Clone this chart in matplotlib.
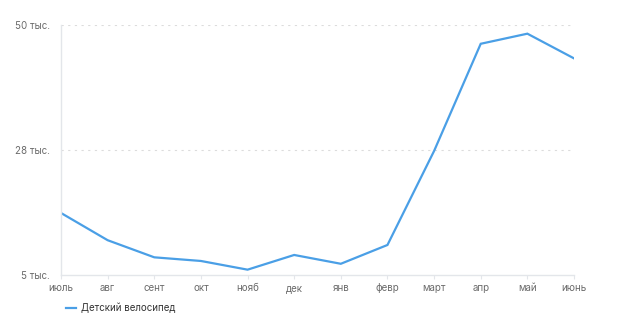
import matplotlib
matplotlib.use("Agg")
import matplotlib.pyplot as plt

months = ["июль", "авг", "сент", "окт", "нояб", "дек", "янв", "февр", "март", "апр", "май", "июнь"]
values = [16.45, 11.6, 8.55, 7.9, 6.35, 8.97, 7.4, 10.75, 27.5, 46.6, 48.4, 44.0]
ytick_vals = [5.4, 27.7, 50.0]
ytick_labels = ["5 тыс.", "28 тыс.", "50 тыс."]
series_name = "Детский велосипед"

line_color = "#4a9fe6"
text_grey = "#6b6b6b"
axis_grey = "#e3e6ea"

plt.rcParams['font.family'] = ['Inter', 'DejaVu Sans']

fig = plt.figure(figsize=(6.24, 3.22), dpi=100)
ax = fig.add_axes([61 / 624, 47 / 322, 513 / 624, 250.3 / 322])

x = list(range(len(months)))
ax.plot(x, values, color=line_color, linewidth=1.6, solid_joinstyle="miter")

ax.set_xlim(0, len(months) - 1)
ax.set_ylim(ytick_vals[0], ytick_vals[-1])
ax.set_xticks(x)
ax.set_xticklabels(months, color=text_grey, fontsize=7)
ax.set_yticks(ytick_vals)
ax.set_yticklabels(ytick_labels, color=text_grey, fontsize=7)

ax.tick_params(axis="x", length=3, color=axis_grey, pad=3)
ax.tick_params(axis="y", length=0, pad=8)

for y in ytick_vals[1:]:
    ax.axhline(y, color="#dcdcdc", linewidth=0.8, linestyle=(0, (2, 4)), zorder=0)

for side in ["top", "right"]:
    ax.spines[side].set_visible(False)
ax.spines["left"].set_color(axis_grey)
ax.spines["bottom"].set_color(axis_grey)
ax.spines["left"].set_linewidth(1)
ax.spines["bottom"].set_linewidth(1)

leg = ax.legend([series_name], loc="upper left", bbox_to_anchor=(62 / 624, 23 / 322),
                bbox_transform=fig.transFigure, frameon=False, fontsize=7,
                handlelength=1.0, handletextpad=0.6, borderaxespad=0)
for t in leg.get_texts():
    t.set_color("#333333")

fig.savefig("out.png", dpi=100)
